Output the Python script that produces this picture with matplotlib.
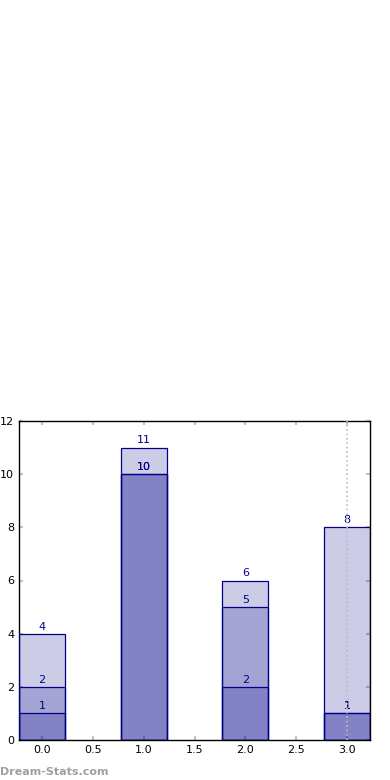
import numpy as np
import matplotlib.pyplot as plt

positions = [0, 1, 2, 3]
series_top = [4, 11, 6, 8]
series_mid = [2, 10, 5, 1]
series_low = [1, 10, 2, 1]

fig = plt.figure(figsize=(3.9, 7.8), dpi=100)
ax = fig.add_axes([19 / 390, 40 / 780, 351 / 390, 319 / 780])

for vals in (series_top, series_mid, series_low):
    ax.bar(positions, vals, width=0.45, color='darkblue', alpha=0.2,
           edgecolor='none', zorder=2)
    ax.bar(positions, vals, width=0.45, facecolor='none',
           edgecolor='darkblue', linewidth=0.9, zorder=3)
    for x, v in zip(positions, vals):
        ax.text(x, v + 0.08, str(v), ha='center', va='bottom',
                color='darkblue', fontsize=8, zorder=4)

ax.axvline(3, color='#bbbbbb', linestyle=':', linewidth=1.2, zorder=5)

ax.set_xlim(-0.225, 3.225)
ax.set_ylim(0, 12)
ax.set_xticks(np.arange(0, 3.01, 0.5))
ax.set_yticks(range(0, 13, 2))
ax.tick_params(direction='in', color='#c4c4c4', length=3, width=1.5,
               labelsize=8, top=True, right=True)
for s in ax.spines.values():
    s.set_color('black')
    s.set_linewidth(1.0)

fig.text(0.0, 8 / 780, 'Dream-Stats.com', color='#a0a0a0', fontsize=8,
         fontweight='semibold', ha='left', va='center')

fig.savefig('out.png', dpi=100)
